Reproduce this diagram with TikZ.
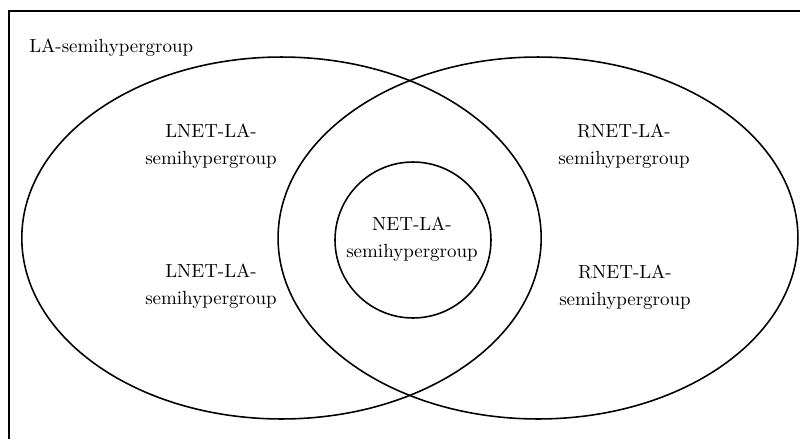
\documentclass[tikz,border=0pt]{standalone}
\usepackage{tikz}
\usetikzlibrary{shapes.geometric}
\usetikzlibrary{positioning}
\tikzstyle{venn} = [ellipse, draw=black, line width=0.9pt, inner sep=0pt]
\tikzstyle{setlabel} = [align=center, font={\fontsize{10.8}{15.2}\selectfont}, inner sep=0pt]

\begin{document}
\begin{tikzpicture}[x=0.02cm, y=-0.02cm]
            \useasboundingbox (0,0) rectangle (800,439);
            \draw [line width=0.7pt] (9,439) -- (9,11) -- (800,11);
            \node [venn, minimum width=10.39cm, minimum height=7.24cm] (lasg) at (281.5,238) {};
            \node [venn, minimum width=10.40cm, minimum height=7.24cm] (rasg) at (538,238) {};
            \node [venn, circle, minimum size=3.12cm] (netsg) at (413,240) {};
            \node [setlabel, anchor=west] (lalabel) at (29,48) {LA-semihypergroup};
            \node [setlabel] (lnetup) at (211,146) {LNET-LA-\\semihypergroup};
            \node [setlabel] (lnetdown) at (211,286) {LNET-LA-\\semihypergroup};
            \node [setlabel] (rnetup) at (624,146) {RNET-LA-\\semihypergroup};
            \node [setlabel] (rnetdown) at (625,287) {RNET-LA-\\semihypergroup};
            \node [setlabel] (netlabel) at (412,239) {NET-LA-\\semihypergroup};
\end{tikzpicture}
\end{document}
